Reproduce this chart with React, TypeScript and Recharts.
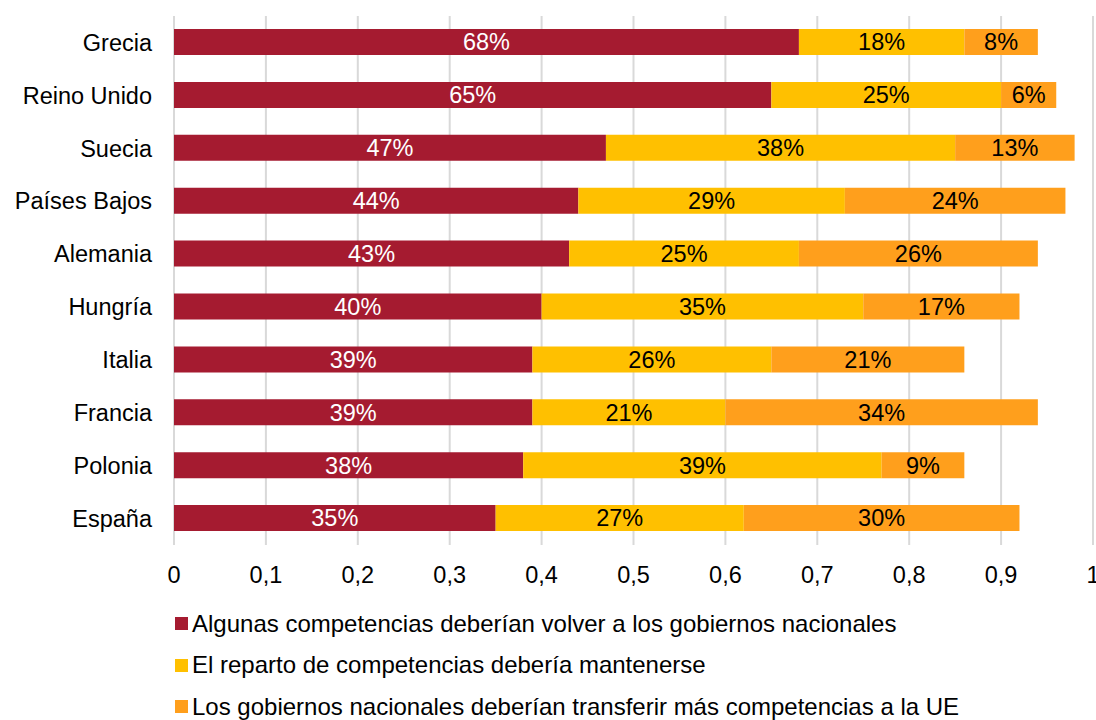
import React from "react";
import { BarChart, Bar, XAxis, YAxis, CartesianGrid, LabelList } from "recharts";

const countries = ["Grecia", "Reino Unido", "Suecia", "Países Bajos", "Alemania", "Hungría", "Italia", "Francia", "Polonia", "España"];
const volver = [0.68, 0.65, 0.47, 0.44, 0.43, 0.40, 0.39, 0.39, 0.38, 0.35];
const mantener = [0.18, 0.25, 0.38, 0.29, 0.25, 0.35, 0.26, 0.21, 0.39, 0.27];
const transferir = [0.08, 0.06, 0.13, 0.24, 0.26, 0.17, 0.21, 0.34, 0.09, 0.30];
const xTicks = [0, 0.1, 0.2, 0.3, 0.4, 0.5, 0.6, 0.7, 0.8, 0.9, 1];

const seriesNames = [
  "Algunas competencias deberían volver a los gobiernos nacionales",
  "El reparto de competencias debería mantenerse",
  "Los gobiernos nacionales deberían transferir más competencias a la UE",
];
const colors = ["#A51B30", "#FFC000", "#FF9F1C"];

const data = countries.map((c, i) => ({
  name: c,
  volver: volver[i],
  mantener: mantener[i],
  transferir: transferir[i],
}));

const FONT = "'Liberation Sans', Arial, sans-serif";
const FS = 23.5;
const pct = (v: any) => `${Math.round(Number(v) * 100)}%`;

export default function App() {
  return (
    <div style={{ position: "absolute", left: 0, top: 0, width: 1096, height: 720, background: "#fff", overflow: "hidden" }}>
      <BarChart
        width={1096}
        height={720}
        data={data}
        layout="vertical"
        margin={{ top: 16, right: 3, left: 0, bottom: 145 }}
        barCategoryGap={0}
      >
        <CartesianGrid horizontal={false} stroke="#D9D9D9" strokeWidth={2} />
        <XAxis
          type="number"
          domain={[0, 1]}
          ticks={xTicks}
          tickFormatter={(v: number) => String(v).replace(".", ",")}
          axisLine={false}
          tickLine={false}
          tickMargin={15}
          height={30}
          interval={0}
          tick={{ fontSize: FS, fill: "#000", fontFamily: FONT }}
        />
        <YAxis
          type="category"
          dataKey="name"
          width={174}
          axisLine={false}
          tickLine={false}
          tickMargin={16}
          interval={0}
          tick={{ fontSize: FS, fill: "#000", fontFamily: FONT }}
        />
        <Bar dataKey="volver" name={seriesNames[0]} stackId="a" fill={colors[0]} barSize={26} isAnimationActive={false}>
          <LabelList dataKey="volver" position="center" formatter={pct} fill="#fff" fontSize={FS} fontFamily={FONT} />
        </Bar>
        <Bar dataKey="mantener" name={seriesNames[1]} stackId="a" fill={colors[1]} barSize={26} isAnimationActive={false}>
          <LabelList dataKey="mantener" position="center" formatter={pct} fill="#000" fontSize={FS} fontFamily={FONT} />
        </Bar>
        <Bar dataKey="transferir" name={seriesNames[2]} stackId="a" fill={colors[2]} barSize={26} isAnimationActive={false}>
          <LabelList dataKey="transferir" position="center" formatter={pct} fill="#000" fontSize={FS} fontFamily={FONT} />
        </Bar>
      </BarChart>
      <div style={{ position: "absolute", left: 175, top: 603, fontFamily: FONT, fontSize: 24, color: "#000", lineHeight: "normal" }}>
        {seriesNames.map((n, i) => (
          <div key={n} style={{ display: "flex", alignItems: "center", height: 41.5, whiteSpace: "nowrap" }}>
            <span style={{ display: "inline-block", width: 13, height: 13, background: colors[i], marginRight: 4 }} />
            <span>{n}</span>
          </div>
        ))}
      </div>
    </div>
  );
}
